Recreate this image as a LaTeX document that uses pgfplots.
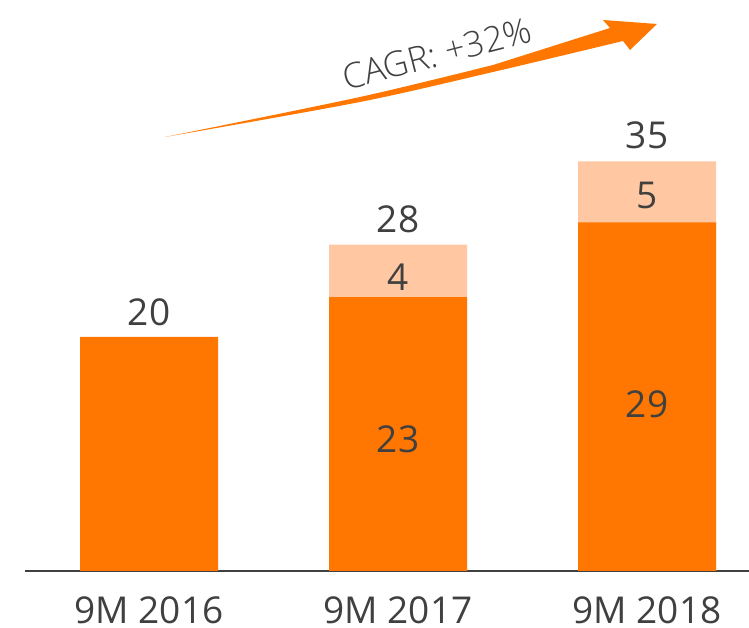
\documentclass[border=0pt]{standalone}
\usepackage{fontspec}
\setmainfont{Open Sans}
\newfontfamily\lightfont{Open Sans Light}
\usepackage{pgfplots}
\pgfplotsset{compat=1.18}
\definecolor{barDark}{HTML}{FF7700}
\definecolor{barLight}{HTML}{FFC8A2}
\definecolor{txtGray}{HTML}{404040}

\begin{document}
\begin{tikzpicture}
\begin{axis}[
    at={(25pt,57pt)}, anchor=south west,
    scale only axis,
    width=724pt, height=571pt,
    xmin=-0.498, xmax=2.4096,
    ymin=0, ymax=48.8,
    axis x line*=bottom,
    axis y line=none,
    axis line style={txtGray, line width=2pt},
    xtick={0,1,2},
    xticklabels={9M 2016,9M 2017,9M 2018},
    xtick style={draw=none},
    ytick=\empty,
    xticklabel style={anchor=base, yshift=-53pt, text=txtGray,
        font=\fontsize{37}{44}\selectfont},
    clip=false,
]
% totals (light part shows the top slice)
\addplot[ybar, bar width=138pt, bar shift=0pt, fill=barLight, draw=none]
    coordinates {(1,27.9) (2,35.0)};
\addplot[ybar, bar width=138pt, bar shift=0pt, fill=barDark, draw=none]
    coordinates {(0,20) (1,23.4) (2,29.8)};
% value labels
\addplot[draw=none, mark=none, nodes near coords, point meta=explicit symbolic,
    nodes near coords style={anchor=base, text=txtGray,
        font=\fontsize{37}{44}\selectfont}]
    coordinates {
        (0,20.94) [20]
        (1,28.97) [28]
        (2,36.15) [35]
        (1,23.93) [4]
        (2,30.94) [5]
        (1,10.09) [23]
        (2,13.16) [29]
    };
\end{axis}

\begin{scope}[x=1pt,y=1pt]
\fill[barDark] plot[smooth] coordinates {(165,491) (360,526) (493,556) (623,587)}
    -- (630,578) -- (657,604) -- (603,608) -- (610,600)
    -- plot[smooth] coordinates {(493,563) (360,531) (165,491)} -- cycle;
\node[text=txtGray, rotate=14.4, anchor=base, font=\lightfont\fontsize{35}{42}\selectfont]
    at (440,562) {CAGR: +32\%};
\end{scope}
\pgfresetboundingbox
\path (0,0) rectangle (749pt,628pt);
\end{tikzpicture}
\end{document}
